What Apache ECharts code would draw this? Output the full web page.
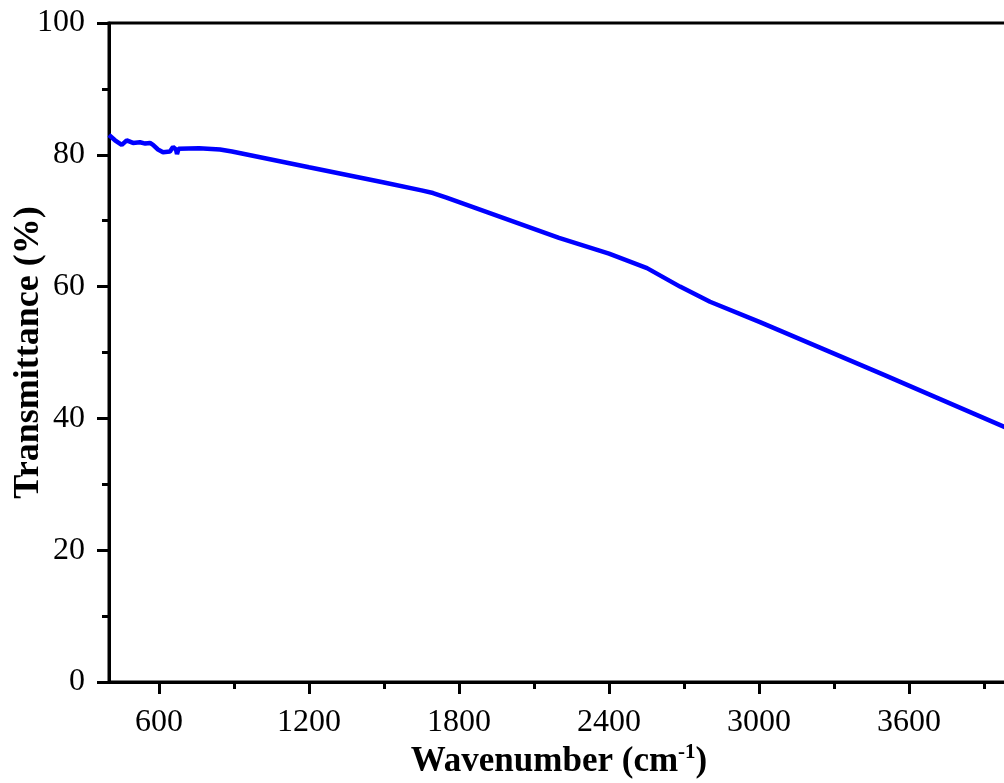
<!DOCTYPE html>
<html>
<head>
<meta charset="utf-8">
<title>Transmittance</title>
<script src="https://cdn.jsdelivr.net/npm/echarts@6/dist/echarts.min.js"></script>
<style>
  html, body { margin: 0; padding: 0; background: #fff; }
  #chart { width: 1004px; height: 783px; }
</style>
</head>
<body>
<div id="chart"></div>
<script>
// wavenumber (cm-1) and transmittance (%)
const wavenumber = [400, 424, 451, 471, 496, 524, 545, 564, 576, 596, 616, 644, 656, 668, 672, 678, 684,
  760, 844, 892, 1200, 1500, 1650, 1696, 1750, 2200, 2400, 2552, 2684, 2804, 3004, 3500, 4000];
const transmittance = [83.0, 82.2, 81.5, 82.2, 81.8, 81.9, 81.7, 81.8, 81.5, 80.8, 80.4, 80.5, 81.2, 80.8, 80.1, 80.9, 81.0,
  81.0, 80.8, 80.5, 78.1, 75.8, 74.6, 74.2, 73.5, 67.4, 65.0, 62.8, 60.0, 57.7, 54.6, 46.6, 38.4];
const xMajor = [600, 1200, 1800, 2400, 3000, 3600];
const xMinor = [900, 1500, 2100, 2700, 3300, 3900];

const font = 'Liberation Serif, Times New Roman, serif';
const chart = echarts.init(document.getElementById('chart'));

const option = {
  backgroundColor: '#fff',
  animation: false,
  grid: {
    left: 109, top: 23, right: -5, bottom: 101,
    containLabel: false,
    outerBoundsMode: 'none',
    show: true,
    borderColor: '#000',
    borderWidth: 3
  },
  xAxis: [
    {
      type: 'value',
      min: 400,
      max: 4000,
      name: '{b|Wavenumber (cm}{s|-1}{b|)}',
      nameLocation: 'middle',
      nameGap: 60,
      nameMoveOverlap: false,
      nameTextStyle: {
        rich: {
          b: { fontFamily: font, fontSize: 35, fontWeight: 'bold', color: '#000', lineHeight: 40 },
          s: { fontFamily: font, fontSize: 21, fontWeight: 'bold', color: '#000', lineHeight: 20, verticalAlign: 'top' }
        }
      },
      axisLine: { lineStyle: { color: '#000', width: 3 } },
      axisTick: { customValues: xMajor, length: 12, lineStyle: { width: 3, color: '#000' } },
      axisLabel: {
        customValues: xMajor, margin: 25, fontFamily: font, fontSize: 32, color: '#000',
        formatter: v => String(v)
      },
      splitLine: { show: false }
    },
    {
      type: 'value',
      position: 'bottom',
      min: 400,
      max: 4000,
      axisLine: { show: false },
      axisTick: { customValues: xMinor, length: 7, lineStyle: { width: 3, color: '#000' } },
      axisLabel: { show: false },
      splitLine: { show: false }
    }
  ],
  yAxis: {
    type: 'value',
    min: 0,
    max: 100,
    interval: 20,
    name: 'Transmittance (%)',
    nameLocation: 'middle',
    nameGap: 62,
    nameMoveOverlap: false,
    nameTextStyle: { fontFamily: font, fontSize: 36, fontWeight: 'bold', color: '#000' },
    axisLine: { show: true, lineStyle: { color: '#000', width: 3 } },
    axisTick: { show: true, length: 12, lineStyle: { width: 3, color: '#000' } },
    minorTick: { show: true, splitNumber: 2, length: 7, lineStyle: { width: 3, color: '#000' } },
    axisLabel: { margin: 24, fontFamily: font, fontSize: 32, color: '#000' },
    splitLine: { show: false }
  },
  series: [{
    type: 'line',
    data: wavenumber.map((w, i) => [w, transmittance[i]]),
    showSymbol: false,
    lineStyle: { color: '#0000ff', width: 4.5 },
    itemStyle: { color: '#0000ff' }
  }]
};

chart.setOption(option);
</script>
</body>
</html>
